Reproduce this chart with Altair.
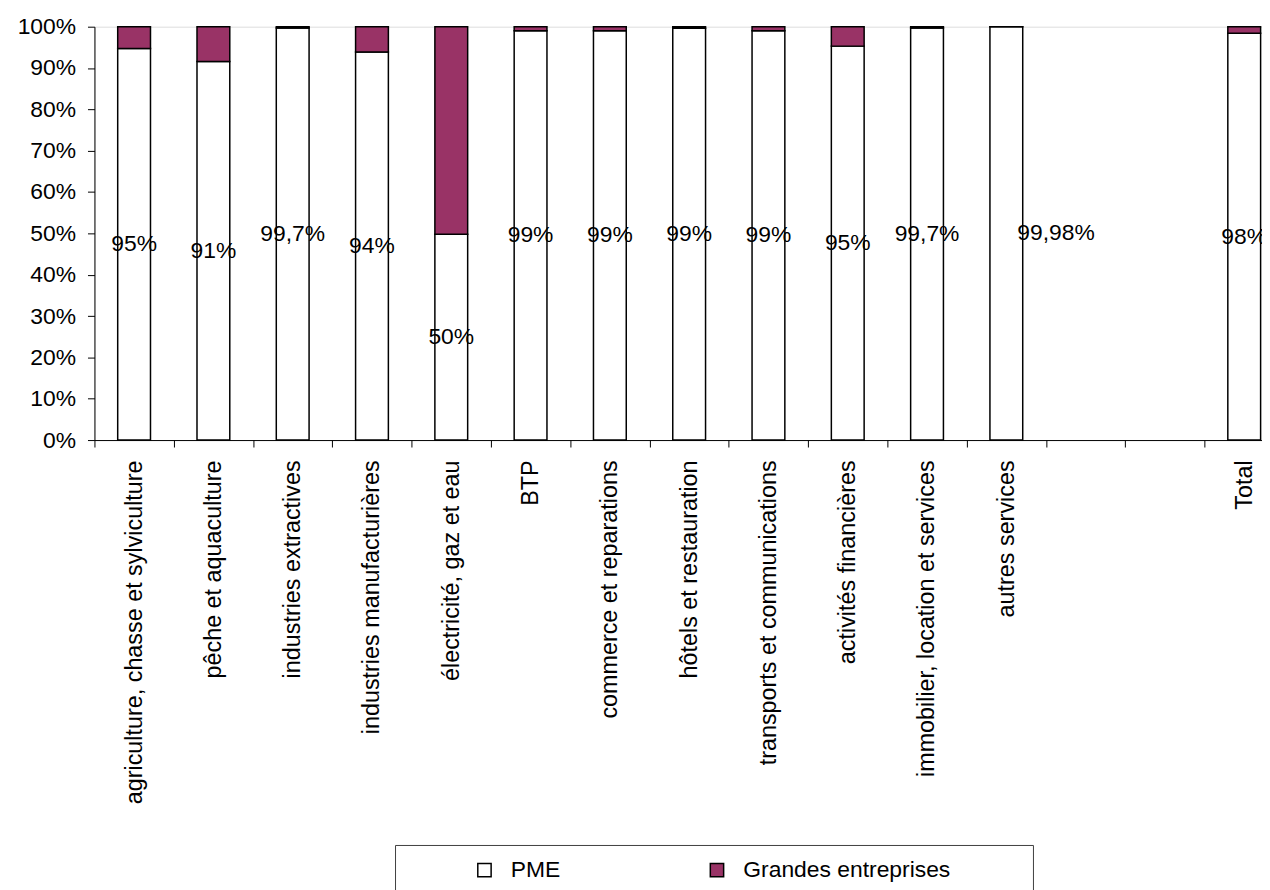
import altair as alt
import pandas as pd

categories = [
    "agriculture, chasse et sylviculture",
    "pêche et aquaculture",
    "industries extractives",
    "industries manufacturières",
    "électricité, gaz et eau",
    "BTP",
    "commerce et reparations",
    "hôtels et restauration",
    "transports et communications",
    "activités financières",
    "immobilier, location et services",
    "autres services",
    "Total",
]
pme = [94.7, 91.6, 99.7, 93.9, 49.8, 99.0, 99.0, 99.6, 99.0, 95.3, 99.7, 99.98, 98.4]
grandes = [5.3, 8.4, 0.3, 6.1, 50.2, 1.0, 1.0, 0.4, 1.0, 4.7, 0.3, 0.02, 1.6]
labels = ["95%", "91%", "99,7%", "94%", "50%", "99%", "99%", "99%", "99%", "95%", "99,7%", "99,98%", "98%"]
series = ["PME", "Grandes entreprises"]
colors = ["white", "#993366"]
x_domain = categories[:12] + [" ", "  "] + [categories[12]]
y_ticks = [0, 0.1, 0.2, 0.3, 0.4, 0.5, 0.6, 0.7, 0.8, 0.9, 1.0]

FONT = "Liberation Sans"

df = pd.DataFrame({"secteur": categories, "PME": pme, "GE": grandes, "label": labels})

xscale = alt.Scale(domain=x_domain, range=[0, 1197], paddingInner=0, paddingOuter=0)
yscale = alt.Scale(domain=[0, 1])

x_axis = alt.Axis(
    title=None, labelAngle=-90, labelAlign="right", labelBaseline="middle",
    labelFont=FONT, labelFontSize=23.5, labelColor="black", labelLimit=600,
    labelPadding=13, tickBand="extent", tickSize=7, tickColor="black",
    domainColor="black", grid=False,
)
y_axis = alt.Axis(
    title=None, values=y_ticks, format=".0%", labelFont=FONT, labelFontSize=23,
    labelColor="black", labelPadding=12, tickSize=7, tickColor="black",
    domainColor="black", grid=False,
)

bars = (
    alt.Chart(df)
    .transform_calculate(**{"PME_": "datum.PME", "Grandes entreprises": "datum.GE"})
    .transform_fold(["PME_", "Grandes entreprises"], as_=["type0", "value"])
    .transform_calculate(
        type="datum.type0 === 'PME_' ? 'PME' : datum.type0",
        frac="datum.value / 100",
        ord="datum.type0 === 'PME_' ? 0 : 1",
    )
    .mark_bar(size=33, stroke="black", strokeWidth=1.5)
    .encode(
        x=alt.X("secteur:N", scale=xscale, axis=x_axis, sort=x_domain),
        y=alt.Y("frac:Q", stack="zero", scale=yscale, axis=y_axis),
        color=alt.Color(
            "type:N",
            scale=alt.Scale(domain=series, range=colors),
            legend=alt.Legend(
                title=None, orient="none", legendX=381, legendY=837,
                direction="horizontal", symbolType="square", symbolSize=180,
                symbolStrokeColor="black", symbolStrokeWidth=1.5,
                labelFont=FONT, labelFontSize=23, labelColor="black",
                labelOffset=15, columnPadding=146, labelLimit=400, padding=0,
            ),
        ),
        order=alt.Order("ord:Q"),
    )
)

text_main = (
    alt.Chart(df)
    .transform_filter("datum.secteur !== 'autres services'")
    .transform_calculate(mid="datum.PME / 200")
    .mark_text(font=FONT, fontSize=23, color="black", baseline="middle", align="center")
    .encode(
        x=alt.X("secteur:N", scale=xscale, sort=x_domain),
        y=alt.Y("mid:Q", scale=yscale),
        text="label:N",
    )
)
text_shift = (
    alt.Chart(df)
    .transform_filter("datum.secteur === 'autres services'")
    .transform_calculate(mid="datum.PME / 200")
    .mark_text(font=FONT, fontSize=23, color="black", baseline="middle", align="center", dx=50)
    .encode(
        x=alt.X("secteur:N", scale=xscale, sort=x_domain),
        y=alt.Y("mid:Q", scale=yscale),
        text="label:N",
    )
)

frame = (
    alt.Chart(pd.DataFrame({"k": [0]}))
    .mark_rect(fillOpacity=0, stroke="#404040", strokeWidth=1)
    .encode(x=alt.value(303), x2=alt.value(945), y=alt.value(824), y2=alt.value(900))
)

chart = (
    alt.layer(frame, bars, text_main, text_shift)
    .properties(
        width=1175, height=416,
        autosize=alt.AutoSizeParams(type="none"),
        padding={"left": 87, "top": 16, "right": 0, "bottom": 450},
    )
    .configure_view(stroke=None)
    .configure(background="white")
)

chart.save("out.html", embed_options={"renderer": "svg", "actions": False})
